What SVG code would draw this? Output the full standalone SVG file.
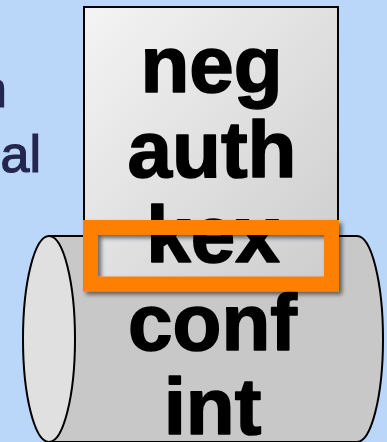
<svg xmlns="http://www.w3.org/2000/svg" width="387" height="442" viewBox="0 0 387 442">
  <style>
    .big { font-family: "Liberation Sans", Arial, sans-serif; font-weight: bold; font-size: 80px; fill: #000; stroke: #000; stroke-width: 1.6; stroke-linejoin: round; text-anchor: middle; }
    .side { font-family: "Liberation Sans", Arial, sans-serif; font-size: 52px; fill: #23264F; stroke: #23264F; stroke-width: 1.2; text-anchor: end; }
    .edge { stroke: #000; stroke-width: 2; }
  </style>
  <defs>
    <linearGradient id="boxGrad" x1="0" y1="0" x2="1" y2="1">
      <stop offset="0" stop-color="#F4F4F4"/>
      <stop offset="1" stop-color="#CCCCCC"/>
    </linearGradient>
    <filter id="shadow" x="-10%" y="-30%" width="120%" height="160%">
      <feDropShadow dx="3" dy="3" stdDeviation="2" flood-color="#000" flood-opacity="0.55"/>
    </filter>
  </defs>
  <rect x="0" y="0" width="387" height="442" fill="#BAD6F8"/>
  <g id="side-text">
    <text class="side" x="7" y="107">n</text>
    <text class="side" x="41" y="172">al</text>
  </g>
  <g id="cylinder">
    <path class="edge" d="M49,236 L357,236 A26,103 0 0 1 357,442 L49,442 Z" fill="#C8C8C8"/>
    <ellipse class="edge" cx="49" cy="339" rx="26" ry="103" fill="#E0E0E0"/>
    <text class="big" x="212.5" y="350">conf</text>
    <text class="big" x="212.5" y="434">int</text>
  </g>
  <g id="box">
    <rect class="edge" x="84" y="7" width="254" height="280" fill="url(#boxGrad)"/>
    <text class="big" x="211.5" y="92">neg</text>
    <text class="big" x="212" y="177">auth</text>
    <text class="big" x="213" y="262">kex</text>
  </g>
  <g id="highlight">
    <rect x="90.5" y="227.5" width="241" height="56.5" fill="none" stroke="#FF7F00" stroke-width="15" filter="url(#shadow)"/>
  </g>
</svg>
